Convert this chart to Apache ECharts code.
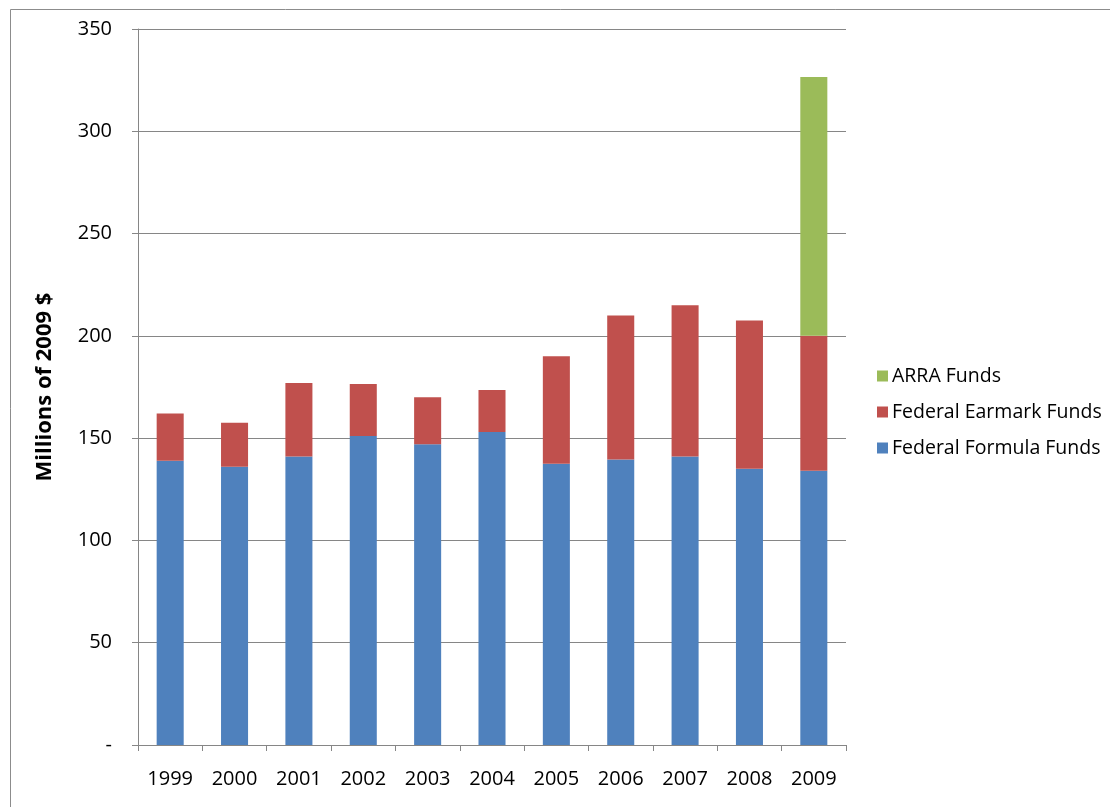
<!DOCTYPE html>
<html>
<head>
<meta charset="utf-8">
<script src="https://cdn.jsdelivr.net/npm/echarts@6/dist/echarts.min.js"></script>
<style>
  html, body { margin: 0; padding: 0; background: #fff; }
  #chart { width: 1110px; height: 807px; }
</style>
</head>
<body>
<div id="chart"></div>
<script>
// Fiscal years on the category axis
const years = ['1999', '2000', '2001', '2002', '2003', '2004', '2005', '2006', '2007', '2008', '2009'];

// Funding by source, millions of 2009 dollars (stacked)
const formulaFunds = [139, 136, 141, 151, 147, 153, 137.5, 139.5, 141, 135, 134];
const earmarkFunds = [23, 21.5, 36, 25.5, 23, 20.5, 52.5, 70.5, 74, 72.5, 66];
const arraFunds = [0, 0, 0, 0, 0, 0, 0, 0, 0, 0, 126.5];

// Value axis tick settings
const yMin = 0;
const yMax = 350;
const yStep = 50;

const FONT = '"Open Sans", "Noto Sans", sans-serif';

const chart = echarts.init(document.getElementById('chart'), null, { renderer: 'canvas' });

chart.setOption({
  backgroundColor: '#ffffff',
  animation: false,
  graphic: [{
    type: 'rect',
    left: 8, top: 7,
    shape: { width: 1200, height: 900 },
    style: { fill: 'none', stroke: '#8c8c8c', lineWidth: 1 },
    silent: true
  }],
  grid: { left: 138, right: 264, top: 29, bottom: 62, containLabel: false },
  legend: {
    orient: 'vertical',
    left: 872,
    top: 361,
    itemWidth: 11,
    itemHeight: 11,
    itemGap: 16,
    icon: 'rect',
    data: ['ARRA Funds', 'Federal Earmark Funds', 'Federal Formula Funds'],
    textStyle: { fontFamily: FONT, fontSize: 19.5, color: '#000', padding: [0, 0, 0, -1] }
  },
  xAxis: {
    type: 'category',
    data: years,
    boundaryGap: true,
    axisLine: { lineStyle: { color: '#868686', width: 1 } },
    axisTick: { show: true, length: 6, alignWithLabel: false, lineStyle: { color: '#868686' } },
    axisLabel: { fontFamily: FONT, fontSize: 20, color: '#000', margin: 24 }
  },
  yAxis: {
    type: 'value',
    min: yMin,
    max: yMax,
    interval: yStep,
    name: 'Millions of 2009 $',
    nameLocation: 'middle',
    nameGap: 82,
    nameTextStyle: { fontFamily: FONT, fontSize: 22, fontWeight: 'bold', color: '#000' },
    axisLine: { show: true, lineStyle: { color: '#868686', width: 1 } },
    axisTick: { show: true, length: 6, lineStyle: { color: '#868686' } },
    axisLabel: {
      fontFamily: FONT, fontSize: 20, color: '#000', margin: 26,
      formatter: v => (v === 0 ? '-' : String(v))
    },
    splitLine: { show: true, lineStyle: { color: '#868686', width: 1 } }
  },
  series: [
    {
      name: 'Federal Formula Funds',
      type: 'bar',
      stack: 'funds',
      data: formulaFunds,
      barWidth: '42%',
      itemStyle: { color: '#4F81BD' }
    },
    {
      name: 'Federal Earmark Funds',
      type: 'bar',
      stack: 'funds',
      data: earmarkFunds,
      itemStyle: { color: '#C0504D' }
    },
    {
      name: 'ARRA Funds',
      type: 'bar',
      stack: 'funds',
      data: arraFunds,
      itemStyle: { color: '#9BBB59' }
    }
  ]
});
</script>
</body>
</html>
